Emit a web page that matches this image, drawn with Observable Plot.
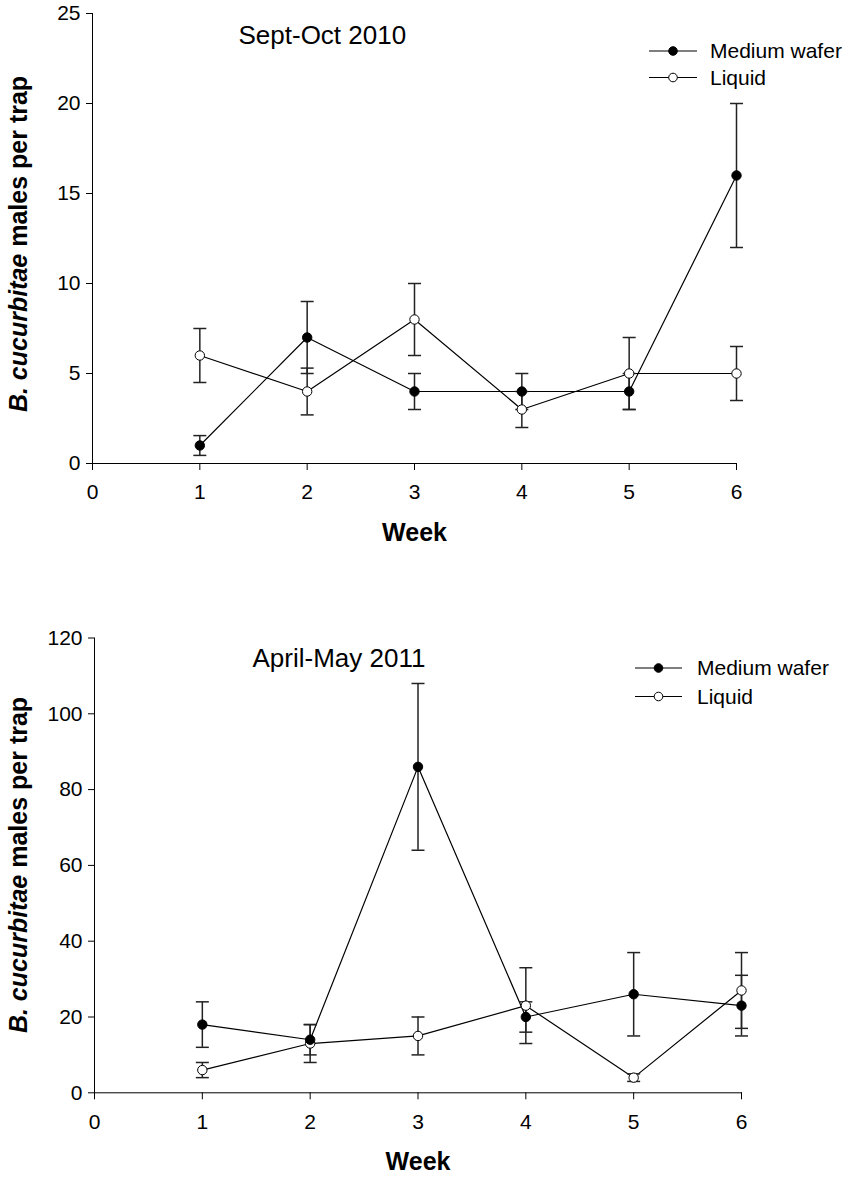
<!DOCTYPE html>
<html>
<head>
<meta charset="utf-8">
<script src="https://cdn.jsdelivr.net/npm/d3@7"></script>
<script src="https://cdn.jsdelivr.net/npm/@observablehq/plot@0.6"></script>
<style>
  html, body { margin: 0; padding: 0; background: #fff; }
  #chart { width: 851px; }
  #chart svg { display: block; }
</style>
</head>
<body>
<div id="chart"></div>
<script>
// ---- data ----
const weeks = [1, 2, 3, 4, 5, 6];
const xTicks = [0, 1, 2, 3, 4, 5, 6];
const seriesNames = ["Medium wafer", "Liquid"];
const titles = ["Sept-Oct 2010", "April-May 2011"];
const xLabel = "Week";
const yLabelItalic = "B. cucurbitae";
const yLabelRest = " males per trap";

const yTicks2010 = [0, 5, 10, 15, 20, 25];
const wafer2010 = [1, 7, 4, 4, 4, 16];
const wafer2010SE = [0.55, 2, 1, 1, 1, 4];
const liquid2010 = [6, 4, 8, 3, 5, 5];
const liquid2010SE = [1.5, 1.3, 2, 1, 2, 1.5];

const yTicks2011 = [0, 20, 40, 60, 80, 100, 120];
const wafer2011 = [18, 14, 86, 20, 26, 23];
const wafer2011SE = [6, 4, 22, 4, 11, 8];
const liquid2011 = [6, 13, 15, 23, 4, 27];
const liquid2011SE = [2, 5, 5, 10, 1, 10];

// ---- helpers ----
function buildRows(wv, ws, lv, ls) {
  const out = [];
  weeks.forEach((w, i) => {
    out.push({week: w, series: seriesNames[0], value: wv[i], lo: wv[i] - ws[i], hi: wv[i] + ws[i]});
    out.push({week: w, series: seriesNames[1], value: lv[i], lo: lv[i] - ls[i], hi: lv[i] + ls[i]});
  });
  return out;
}

const capSymbol = {
  draw(ctx) { const r = 6.5; ctx.moveTo(-r, 0); ctx.lineTo(r, 0); }
};

const FONT = "'Liberation Sans', Arial, Helvetica, sans-serif";

function panel(cfg) {
  const data = buildRows(cfg.wv, cfg.ws, cfg.lv, cfg.ls);
  const svg = Plot.plot({
    width: 851,
    height: cfg.height,
    marginLeft: cfg.ml, marginRight: cfg.mr, marginTop: cfg.mt, marginBottom: cfg.mb,
    style: {fontFamily: FONT, fontSize: "21px", color: "black", background: "white", overflow: "visible"},
    x: {domain: [0, 6], ticks: xTicks, tickFormat: d => String(d), tickSize: 7, tickPadding: 14, label: null, line: true},
    y: {domain: cfg.yDomain, ticks: cfg.yTicks, tickFormat: d => String(d), tickSize: 6, tickPadding: 6, label: null, line: true},
    marks: [
      Plot.line(data, {x: "week", y: "value", z: "series", stroke: "black", strokeWidth: 1.2}),
      Plot.ruleX(data, {x: "week", y1: "lo", y2: "hi", stroke: "#222", strokeWidth: 1.5}),
      Plot.dot(data, {x: "week", y: "lo", symbol: capSymbol, fill: "none", stroke: "#222", strokeWidth: 1.5}),
      Plot.dot(data, {x: "week", y: "hi", symbol: capSymbol, fill: "none", stroke: "#222", strokeWidth: 1.5}),
      Plot.dot(data.filter(d => d.series === seriesNames[1]), {x: "week", y: "value", r: 4.7, fill: "white", stroke: "black", strokeWidth: 1}),
      Plot.dot(data.filter(d => d.series === seriesNames[0]), {x: "week", y: "value", r: 4.7, fill: "black", stroke: "black", strokeWidth: 1}),
      Plot.text([cfg.title], {text: d => d, frameAnchor: "top-left", dx: cfg.titleDx, dy: cfg.titleDy, textAnchor: "start", lineAnchor: "middle", fontSize: 26, fill: "black"}),
      Plot.text([xLabel], {text: d => d, frameAnchor: "bottom", dy: 69, lineAnchor: "middle", fontSize: 25, fontWeight: "bold", fill: "black"})
    ]
  });
  const s = d3.select(svg);
  // y-axis label with italic species name
  const yl = s.append("text")
    .attr("transform", `translate(18, ${cfg.ylabelY}) rotate(-90)`)
    .attr("text-anchor", "middle")
    .attr("dy", "0.35em")
    .attr("font-family", FONT)
    .attr("font-size", 25)
    .attr("font-weight", "bold")
    .attr("fill", "black");
  yl.append("tspan").attr("font-style", "italic").text(yLabelItalic);
  yl.append("tspan").text(yLabelRest);
  // legend
  const lg = s.append("g").attr("font-family", FONT).attr("font-size", 21).attr("text-anchor", "start");
  seriesNames.forEach((name, i) => {
    const y = cfg.legY + i * cfg.legGap;
    lg.append("line").attr("x1", cfg.legX1).attr("x2", cfg.legX2).attr("y1", y).attr("y2", y)
      .attr("stroke", "black").attr("stroke-width", 1.2);
    lg.append("circle").attr("cx", (cfg.legX1 + cfg.legX2) / 2).attr("cy", y).attr("r", 4.3)
      .attr("fill", i === 0 ? "black" : "white").attr("stroke", "black").attr("stroke-width", 1);
    lg.append("text").attr("x", cfg.legTx).attr("y", y).attr("dy", "0.35em")
      .attr("text-anchor", "start").attr("fill", "black").text(name);
  });
  return svg;
}

const chart = document.getElementById("chart");
chart.appendChild(panel({
  height: 588, ml: 92, mr: 115, mt: 13, mb: 125,
  yDomain: [0, 25], yTicks: yTicks2010,
  wv: wafer2010, ws: wafer2010SE, lv: liquid2010, ls: liquid2010SE,
  title: titles[0], titleDx: 146, titleDy: 22,
  ylabelY: 244,
  legX1: 649, legX2: 697, legTx: 710, legY: 51, legGap: 26.5
}));
chart.appendChild(panel({
  height: 589, ml: 94, mr: 110, mt: 49.5, mb: 84.7,
  yDomain: [0, 120], yTicks: yTicks2011,
  wv: wafer2011, ws: wafer2011SE, lv: liquid2011, ls: liquid2011SE,
  title: titles[1], titleDx: 158, titleDy: 20.5,
  ylabelY: 277,
  legX1: 635, legX2: 682, legTx: 697, legY: 80, legGap: 28.5
}));
</script>
</body>
</html>
